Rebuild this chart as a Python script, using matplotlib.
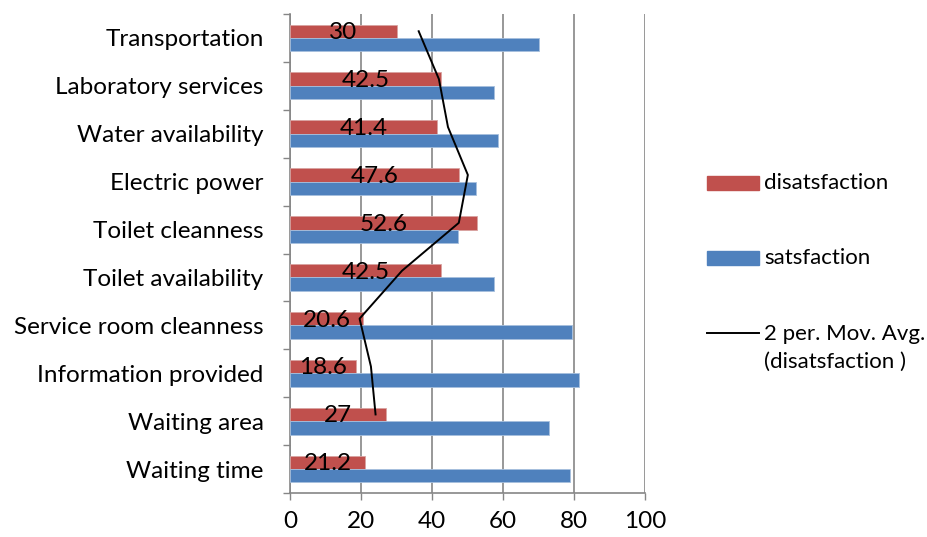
import numpy as np
import matplotlib
matplotlib.use("Agg")
import matplotlib.pyplot as plt
from matplotlib.patches import Rectangle
from matplotlib.lines import Line2D

plt.rcParams['font.family'] = ['Lato', 'DejaVu Sans']

# categories from bottom to top
categories = ["Waiting time", "Waiting area", "Information provided",
              "Service room cleanness", "Toilet availability", "Toilet cleanness",
              "Electric power", "Water availability", "Laboratory services",
              "Transportation"]
disatsfaction = [21.2, 27, 18.6, 20.6, 42.5, 52.6, 47.6, 41.4, 42.5, 30]
satsfaction = [78.8, 73, 81.4, 79.4, 57.5, 47.4, 52.4, 58.6, 57.5, 70]
# 2 period moving average of disatsfaction (starts at 2nd category)
mov_avg = [24.1, 22.8, 19.6, 31.55, 47.55, 50.1, 44.5, 41.95, 36.25]
x_ticks = [0, 20, 40, 60, 80, 100]

red = '#C0504D'
blue = '#4F81BD'
grey = '#868686'
fs = 17.5
fs_leg = 16

fig = plt.figure(figsize=(9.27, 5.37), dpi=100)
ax = fig.add_axes([290 / 927, 44 / 537, 355 / 927, 479 / 537])

y = np.arange(len(categories))
h = 0.28
ax.barh(y + h / 2, disatsfaction, height=h, color=red, edgecolor='#D9A3A1',
        linewidth=0.6, zorder=3)
ax.barh(y - h / 2, satsfaction, height=h, color=blue, edgecolor='#A7C0DE',
        linewidth=0.6, zorder=3)
ax.plot(mov_avg, y[1:] + h / 2, color='black', lw=1.4, zorder=4)

for yi, v in zip(y, disatsfaction):
    ax.text(v / 2, yi + h / 2 - 0.03, f"{v:g}", ha='center', va='center',
            fontsize=fs, zorder=5)

ax.set_xlim(0, 100)
ax.set_ylim(-0.5, len(categories) - 0.5)
ax.set_xticks(x_ticks)
ax.set_xticklabels([str(t) for t in x_ticks], fontsize=fs)
ax.set_yticks(np.arange(len(categories) + 1) - 0.5)
ax.set_yticklabels([])
ax.set_yticks(y, minor=True)
ax.set_yticklabels(categories, minor=True, fontsize=fs)
ax.tick_params(axis='y', which='major', length=5, color=grey, width=1)
ax.tick_params(axis='y', which='minor', length=0, pad=19)
ax.tick_params(axis='x', length=5, color=grey, width=1, pad=8)

ax.xaxis.grid(True, color=grey, lw=1.2)
ax.set_axisbelow(True)
for s in ['top', 'right']:
    ax.spines[s].set_visible(False)
for s in ['left', 'bottom']:
    ax.spines[s].set_color(grey)
    ax.spines[s].set_linewidth(1.2)

# legend drawn by hand in pixel positions
def fx(px):
    return px / 927

def fy(py):
    return 1 - py / 537

fig.patches.append(Rectangle((fx(707), fy(190)), fx(52), 14 / 537, color=red,
                             transform=fig.transFigure, figure=fig))
fig.patches.append(Rectangle((fx(707), fy(265)), fx(52), 14 / 537, color=blue,
                             transform=fig.transFigure, figure=fig))
fig.lines.append(Line2D([fx(707), fx(759)], [fy(333), fy(333)], color='black',
                        lw=1.4, transform=fig.transFigure, figure=fig))
fig.text(fx(764), fy(183), "disatsfaction", fontsize=fs_leg, va='center')
fig.text(fx(764), fy(258), "satsfaction", fontsize=fs_leg, va='center')
fig.text(fx(764), fy(334), "2 per. Mov. Avg.", fontsize=fs_leg, va='center')
fig.text(fx(764), fy(362), "(disatsfaction )", fontsize=fs_leg, va='center')

fig.savefig("out.png", dpi=100)
